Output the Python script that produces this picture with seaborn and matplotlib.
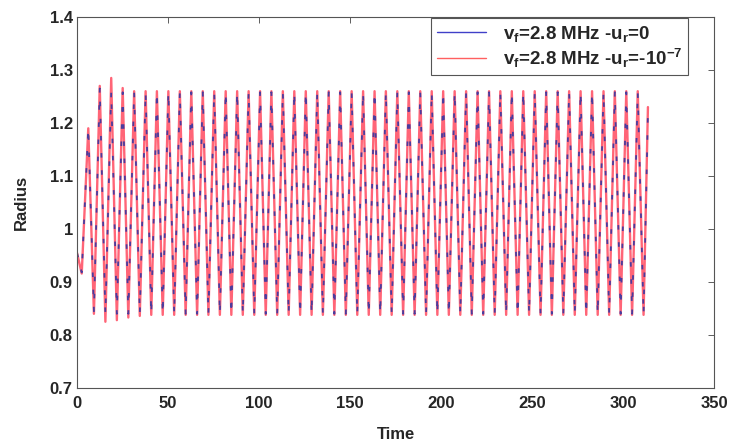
import pandas as pd
import matplotlib
matplotlib.use("Agg")
import matplotlib.pyplot as plt
import seaborn as sns

# peak / trough times
peak_time = [6.2, 12.5, 18.8, 25.1, 31.4, 37.7, 43.9, 50.2, 56.5, 62.8,
             69.1, 75.4, 81.7, 88.0, 94.3, 100.6, 106.8, 113.1, 119.4, 125.7,
             132.0, 138.3, 144.6, 150.9, 157.2, 163.5, 169.7, 176.0, 182.3, 188.6,
             194.9, 201.2, 207.5, 213.8, 220.1, 226.4, 232.6, 238.9, 245.2, 251.5,
             257.8, 264.1, 270.4, 276.7, 283.0, 289.3, 295.5, 301.8, 308.1]
trough_time = [2.6, 9.3, 15.6, 21.9, 28.2, 34.5, 40.8, 47.1, 53.4, 59.7,
               66.0, 72.2, 78.5, 84.8, 91.1, 97.4, 103.7, 110.0, 116.3, 122.6,
               128.9, 135.1, 141.4, 147.7, 154.0, 160.3, 166.6, 172.9, 179.2, 185.5,
               191.8, 198.0, 204.3, 210.6, 216.9, 223.2, 229.5, 235.8, 242.1, 248.4,
               254.7, 260.9, 267.2, 273.5, 279.8, 286.1, 292.4, 298.7, 305.0, 311.3]
start_time, end_time = 0.0, 313.7

# red series (u_r = -1e-7)
red_peaks = [1.19, 1.27, 1.285, 1.266, 1.26, 1.26, 1.26, 1.26, 1.26, 1.26,
             1.26, 1.26, 1.26, 1.26, 1.26, 1.26, 1.26, 1.26, 1.26, 1.26,
             1.26, 1.26, 1.26, 1.26, 1.26, 1.26, 1.26, 1.26, 1.26, 1.26,
             1.26, 1.26, 1.26, 1.26, 1.26, 1.26, 1.26, 1.26, 1.26, 1.26,
             1.26, 1.26, 1.26, 1.26, 1.26, 1.26, 1.26, 1.26, 1.26]
red_troughs = [0.916, 0.84, 0.825, 0.828, 0.833, 0.836, 0.838, 0.838, 0.838, 0.838,
               0.838, 0.838, 0.838, 0.838, 0.838, 0.838, 0.838, 0.838, 0.838, 0.838,
               0.838, 0.838, 0.838, 0.838, 0.838, 0.838, 0.838, 0.838, 0.838, 0.838,
               0.838, 0.838, 0.838, 0.838, 0.838, 0.838, 0.838, 0.838, 0.838, 0.838,
               0.838, 0.838, 0.838, 0.838, 0.838, 0.838, 0.838, 0.838, 0.838, 0.838]
red_start, red_end = 0.955, 1.23

# blue series (u_r = 0)
blue_peaks = [1.19, 1.265, 1.258, 1.258, 1.258, 1.258, 1.258, 1.258, 1.258, 1.258,
              1.258, 1.258, 1.258, 1.258, 1.258, 1.258, 1.258, 1.258, 1.258, 1.258,
              1.258, 1.258, 1.258, 1.258, 1.258, 1.258, 1.258, 1.258, 1.258, 1.258,
              1.258, 1.258, 1.258, 1.258, 1.258, 1.258, 1.258, 1.258, 1.258, 1.258,
              1.258, 1.258, 1.258, 1.258, 1.258, 1.258, 1.258, 1.258, 1.258]
blue_troughs = [0.918, 0.845, 0.84, 0.84, 0.84, 0.84, 0.84, 0.84, 0.84, 0.84,
                0.84, 0.84, 0.84, 0.84, 0.84, 0.84, 0.84, 0.84, 0.84, 0.84,
                0.84, 0.84, 0.84, 0.84, 0.84, 0.84, 0.84, 0.84, 0.84, 0.84,
                0.84, 0.84, 0.84, 0.84, 0.84, 0.84, 0.84, 0.84, 0.84, 0.84,
                0.84, 0.84, 0.84, 0.84, 0.84, 0.84, 0.84, 0.84, 0.84, 0.84]
blue_start, blue_end = 0.955, 1.22


def build(peaks, troughs, first, last):
    t = [start_time] + peak_time + trough_time + [end_time]
    r = [first] + peaks + troughs + [last]
    return pd.DataFrame({"Time": t, "Radius": r}).sort_values("Time")


red = build(red_peaks, red_troughs, red_start, red_end)
blue = build(blue_peaks, blue_troughs, blue_start, blue_end)

sns.set_style("white")
plt.rcParams["font.family"] = ["Liberation Sans", "DejaVu Sans"]
plt.rcParams["font.weight"] = "bold"
plt.rcParams["mathtext.fontset"] = "custom"
plt.rcParams["mathtext.rm"] = "Liberation Sans:bold"
plt.rcParams["mathtext.default"] = "rm"

fig = plt.figure(figsize=(7.32, 4.43), dpi=100)
ax = fig.add_axes([77 / 732, 55 / 443, 637 / 732, 371 / 443])

sns.lineplot(data=red, x="Time", y="Radius", ax=ax, color="#ff5468",
             linewidth=1.7, estimator=None, alpha=0.9)
sns.lineplot(data=blue, x="Time", y="Radius", ax=ax, color="#4a3c9e",
             linewidth=1.3, linestyle=(0, (2.5, 7)), estimator=None)

ax.set_xlim(0, 350)
ax.set_ylim(0.7, 1.4)
ax.set_xticks([0, 50, 100, 150, 200, 250, 300, 350])
ax.set_yticks([0.7, 0.8, 0.9, 1.0, 1.1, 1.2, 1.3, 1.4])
ax.set_yticklabels(["0.7", "0.8", "0.9", "1", "1.1", "1.2", "1.3", "1.4"])
ax.tick_params(direction="in", length=4, width=0.6, top=True, right=True,
               labelsize=12, color="#444444", pad=3)
ax.tick_params(axis="x", pad=6)
for lab in ax.get_xticklabels() + ax.get_yticklabels():
    lab.set_fontweight("bold")
for s in ax.spines.values():
    s.set_color("#555555")
    s.set_linewidth(0.8)

ax.set_xlabel("Time", fontsize=12, fontweight="bold", labelpad=11)
ax.set_ylabel("Radius", fontsize=12, fontweight="bold", labelpad=15)

handles = [plt.Line2D([], [], color="#4040c8", lw=1.0),
           plt.Line2D([], [], color="#ff6060", lw=1.0)]
labels = [r"v$_f$=2.8 MHz -u$_r$=0", r"v$_f$=2.8 MHz -u$_r$=-10$^{-7}$"]
leg = ax.legend(handles, labels, loc="upper right", bbox_to_anchor=(0.959, 0.997),
                borderaxespad=0, fancybox=False, framealpha=1, edgecolor="#555555",
                prop={"size": 13.5, "weight": "bold"}, handlelength=2.6,
                labelspacing=0.15, borderpad=0.3, handletextpad=0.9)
leg.get_frame().set_linewidth(0.8)

fig.savefig("out.png", dpi=100)
